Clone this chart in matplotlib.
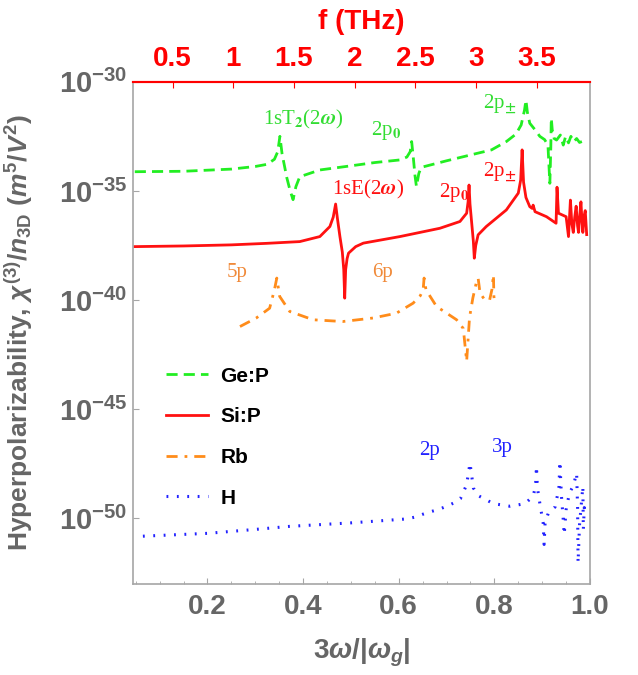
import numpy as np
import matplotlib
matplotlib.use('Agg')
import matplotlib.pyplot as plt
from matplotlib.ticker import FixedLocator, NullLocator, MultipleLocator

plt.rcParams['font.family'] = ['Liberation Sans', 'DejaVu Sans']
plt.rcParams['font.weight'] = 'bold'
plt.rcParams['mathtext.fontset'] = 'custom'
plt.rcParams['mathtext.rm'] = 'Liberation Sans:bold'
plt.rcParams['mathtext.it'] = 'Liberation Sans:italic:bold'
plt.rcParams['mathtext.bf'] = 'Liberation Sans:bold'

GRAY = '#666666'
SPINE = '#a6a6a6'

# x = 3w/|w_g|, y given as log10 of chi3/n3D
ge_x = [0.048, 0.15, 0.25, 0.30, 0.325, 0.34, 0.347, 0.3515, 0.356, 0.366, 0.373,
        0.379, 0.385, 0.393, 0.435, 0.5, 0.55, 0.6025, 0.617, 0.624, 0.627, 0.631,
        0.634, 0.637, 0.642, 0.647, 0.70, 0.76, 0.794, 0.825, 0.845, 0.856, 0.863,
        0.866, 0.869, 0.874, 0.885, 0.895, 0.905, 0.912, 0.916, 0.918, 0.919, 0.921,
        0.925, 0.93, 0.938, 0.944, 0.949, 0.955, 0.96, 0.966, 0.972, 0.978, 0.983]
ge_log = [-34.12, -34.1, -34.0, -33.88, -33.78, -33.55, -33.2, -32.5, -33.3, -34.4, -35.0,
          -35.4, -34.8, -34.35, -34.04, -33.85, -33.7, -33.58, -33.45, -33.2, -32.74, -33.6,
          -34.3, -34.8, -34.2, -33.92, -33.62, -33.3, -33.12, -32.74, -32.4, -31.98, -31.3,
          -30.84, -31.4, -31.9, -32.2, -32.5, -32.65, -32.9, -34.65, -33.0, -31.67, -32.2,
          -32.6, -32.67, -32.44, -32.9, -32.5, -32.8, -32.5, -32.75, -32.6, -32.78, -32.74]

si_x = [0.048, 0.15, 0.25, 0.324, 0.393, 0.435, 0.456, 0.463, 0.468, 0.472, 0.477,
        0.482, 0.485, 0.487, 0.489, 0.492, 0.495, 0.51, 0.526, 0.6025, 0.686, 0.728,
        0.742, 0.745, 0.747, 0.749, 0.752, 0.756, 0.758, 0.761, 0.766, 0.783, 0.825,
        0.85, 0.855, 0.858, 0.861, 0.866, 0.874, 0.879, 0.881, 0.885, 0.909, 0.929,
        0.931, 0.934, 0.95, 0.955, 0.959, 0.962, 0.965, 0.968, 0.971, 0.974, 0.976,
        0.979, 0.981, 0.983, 0.985, 0.988, 0.99, 0.993]
si_log = [-37.55, -37.52, -37.47, -37.4, -37.32, -37.09, -36.63, -36.2, -35.6, -36.3, -37.09,
          -37.8, -38.6, -39.91, -38.6, -38.1, -37.85, -37.55, -37.39, -37.09, -36.71, -36.4,
          -36.02, -35.5, -34.73, -35.6, -36.33, -37.3, -38.08, -37.5, -37.01, -36.63, -35.87,
          -35.1, -34.5, -33.12, -34.6, -35.3, -35.72, -35.8, -35.65, -35.95, -36.18, -36.48,
          -34.83, -36.02, -36.18, -37.09, -35.42, -36.5, -36.9, -36.2, -35.7, -36.6, -36.9,
          -36.0, -35.5, -36.3, -36.9, -36.1, -35.9, -37.0]

rb_x = [0.268, 0.302, 0.33, 0.34, 0.345, 0.351, 0.372, 0.421, 0.483, 0.546, 0.595,
        0.63, 0.645, 0.651, 0.653, 0.657, 0.679, 0.721, 0.735, 0.742, 0.748, 0.755,
        0.762, 0.766, 0.77, 0.78, 0.79, 0.795, 0.798, 0.799, 0.801]
rb_log = [-41.21, -40.82, -40.37, -39.53, -38.99, -39.83, -40.52, -40.9, -40.98, -40.82, -40.6,
          -40.14, -39.8, -39.53, -38.99, -39.53, -40.29, -40.9, -41.3, -42.8, -40.8, -39.9,
          -39.22, -38.99, -39.68, -39.99, -40.0, -39.5, -38.84, -39.83, -40.2]

h_x = [0.065, 0.2, 0.3, 0.372, 0.5, 0.617, 0.635, 0.651, 0.668, 0.684, 0.7, 0.715,
       0.729, 0.742, 0.749, 0.756, 0.766, 0.798, 0.833, 0.864, 0.881, 0.886, 0.888,
       0.89, 0.896, 0.902, 0.904, 0.906, 0.913, 0.927, 0.935, 0.937, 0.94, 0.944,
       0.946, 0.95, 0.957, 0.965, 0.972, 0.974, 0.975, 0.978, 0.982, 0.985, 0.986,
       0.988, 0.99]
h_log = [-50.81, -50.68, -50.5, -50.36, -50.2, -50.02, -49.93, -49.8, -49.68, -49.58, -49.44, -49.29,
         -49.09, -48.45, -47.46, -48.6, -48.95, -49.32, -49.44, -49.32, -48.98, -48.53, -47.61,
         -48.6, -49.44, -50.2, -51.19, -50.2, -49.74, -49.47, -48.6, -47.38, -48.9, -50.05,
         -50.74, -49.59, -48.83, -48.5, -47.92, -49.5, -52.03, -50.3, -49.29, -48.53, -50.51,
         -49.5, -49.9]

labels = ['Ge:P', 'Si:P', 'Rb', 'H']
colors = ['#22ee22', '#ff1111', '#ff8c1a', '#2222ff']

yticks = [-50, -45, -40, -35, -30]
thz_ticks = [0.5, 1, 1.5, 2, 2.5, 3, 3.5]
thz_labels = ['0.5', '1', '1.5', '2', '2.5', '3', '3.5']


def to_thz(r):
    return 3.94 * r


def to_ratio(f):
    return f / 3.94


fig = plt.figure(figsize=(6.38, 6.75), dpi=100)
ax = fig.add_axes([0.209, 0.1348, 0.7158, 0.7441])

ax.plot(ge_x, 10.0 ** np.array(ge_log), color=colors[0], lw=2.0,
        dashes=(4, 2.2), label=labels[0])
ax.plot(si_x, 10.0 ** np.array(si_log), color=colors[1], lw=2.0, label=labels[1])
ax.plot(rb_x, 10.0 ** np.array(rb_log), color=colors[2], lw=2.0,
        dashes=(4, 2.5, 1, 2.5), label=labels[2])
ax.plot(h_x, 10.0 ** np.array(h_log), color=colors[3], lw=2.2,
        dashes=(0.6, 2.8), label=labels[3])

ax.set_yscale('log')
ax.set_xlim(0.045, 1.0)
ax.set_ylim(1e-53, 1e-30)

ax.yaxis.set_major_locator(FixedLocator([10.0 ** t for t in yticks]))
ax.yaxis.set_minor_locator(NullLocator())
ax.set_yticklabels([r'$\mathrm{10^{%d}}$' % t for t in yticks])
ax.xaxis.set_minor_locator(MultipleLocator(0.05))
ax.set_xticks([0.2, 0.4, 0.6, 0.8, 1.0])
ax.set_xticklabels(['0.2', '0.4', '0.6', '0.8', '1.0'])

ax.tick_params(axis='both', which='both', direction='in', color=SPINE,
               labelcolor=GRAY, top=False, right=False)
ax.tick_params(axis='x', which='major', length=4, labelsize=20, pad=7)
ax.tick_params(axis='x', which='minor', length=2.5)
ax.tick_params(axis='y', which='major', length=4, labelsize=21, pad=4)

for side in ['left', 'bottom', 'right']:
    ax.spines[side].set_color(SPINE)
    ax.spines[side].set_linewidth(1.2)
ax.spines['top'].set_color('red')
ax.spines['top'].set_linewidth(1.5)

secax = ax.secondary_xaxis('top', functions=(to_thz, to_ratio))
secax.set_xticks(thz_ticks)
secax.set_xticklabels(thz_labels)
secax.tick_params(axis='x', direction='in', length=4, color='red',
                  labelcolor='red', labelsize=20, pad=7)
secax.spines['top'].set_color('red')
secax.spines['top'].set_linewidth(1.5)
secax.set_xlabel('f (THz)', color='red', fontsize=20, fontweight='bold', labelpad=12)

ax.set_xlabel(r'$3\omega/|\omega_g|$', color=GRAY, fontsize=20, labelpad=12)
ax.set_ylabel(r'Hyperpolarizability, $\chi^{(3)}/n_{\mathrm{3D}}$ $(m^5/V^2)$',
              color=GRAY, fontsize=19, fontweight='bold')
ax.yaxis.set_label_coords(-0.215, 0.5)

# peak labels
note = dict(ha='center', va='center', fontsize=15, family='Liberation Serif',
            fontweight='normal', math_fontfamily='stix')
ax.text(0.3996, 10 ** -31.75, r'1sT$_2$(2$\omega$)', color='#33dd33', **note)
ax.text(0.573, 10 ** -32.21, r'2p$_0$', color='#33dd33', **note)
ax.text(0.812, 10 ** -31.02, r'2p$_{\pm}$', color='#33dd33', **note)
ax.text(0.5356, 10 ** -34.95, r'1sE(2$\omega$)', color='#ff1111', **note)
ax.text(0.7155, 10 ** -35.09, r'2p$_0$', color='#ff1111', **note)
ax.text(0.812, 10 ** -34.13, r'2p$_{\pm}$', color='#ff1111', **note)
ax.text(0.2615, 10 ** -38.75, '5p', color='#f08a3a', **note)
ax.text(0.567, 10 ** -38.75, '6p', color='#f08a3a', **note)
ax.text(0.665, 10 ** -46.89, '2p', color='#2222ff', **note)
ax.text(0.816, 10 ** -46.75, '3p', color='#2222ff', **note)

ax.legend(loc='upper left', bbox_to_anchor=(0.0716, 0.433), frameon=False,
          fontsize=15, handlelength=2.0, handletextpad=0.6, labelspacing=1.04,
          borderpad=0, borderaxespad=0)

fig.savefig('out.png', dpi=100)
